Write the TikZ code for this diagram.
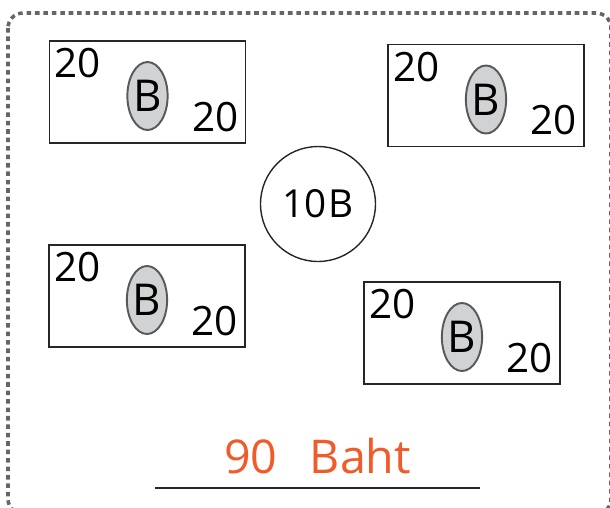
\documentclass[tikz,border=0pt]{standalone}
\usepackage{fontspec}
\setmainfont{Open Sans}
\usetikzlibrary{calc}
\usetikzlibrary{shapes.geometric}

\definecolor{bahtorange}{RGB}{241,90,41}
\definecolor{coingray}{RGB}{209,210,212}
\definecolor{rimgray}{RGB}{88,89,91}
\definecolor{bordergray}{RGB}{100,101,104}

\tikzset{
 note/.style={draw=black!85, line width=0.8pt, minimum width=3.92cm, minimum height=2.04cm, inner sep=0pt},
 seal/.style={ellipse, draw=rimgray, fill=coingray, line width=1.1pt, minimum width=0.78cm, minimum height=1.36cm, inner sep=0pt, font=\fontsize{25}{25}\selectfont},
 value/.style={inner sep=0pt, font=\fontsize{23}{23}\selectfont}
}

\begin{document}
\begin{tikzpicture}[x=0.02cm, y=-0.02cm]
\useasboundingbox (0,0) rectangle (610,508);
\clip (0,0) rectangle (610,508);
\draw[bordergray, line width=2pt, dash pattern=on 2.6pt off 2.2pt, rounded corners=0.3cm] (8,13) rectangle (611,514);
% four banknotes
\foreach \n/\x/\y in {a/147.5/92, b/486/95.5, c/147/296, d/462/333} {
 \node[note] (\n) at (\x,\y) {};
 \node[value] (\n top) at ($(\n.north west)+(29,23)$) {20};
 \node[value] (\n bot) at ($(\n.south east)+(-31,-27)$) {20};
 \node[seal] (\n seal) at ($(\n.center)+(0,4)$) {B};
}
% coin
\node[circle, draw=black!85, line width=0.8pt, minimum size=2.3cm, inner sep=0pt, font=\fontsize{22}{22}\selectfont] (coin) at (318,204) {10\kern1.5pt B};
% total
\node[bahtorange, anchor=base, inner sep=0pt, font=\fontsize{26.5}{26.5}\selectfont] (total) at (317.5,473) {90\hspace{0.7em}Baht};
\coordinate (lineL) at (155,488);
\coordinate (lineR) at (480,488);
\draw[black!85, line width=1.5pt] (lineL) -- (lineR);
\end{tikzpicture}
\end{document}
